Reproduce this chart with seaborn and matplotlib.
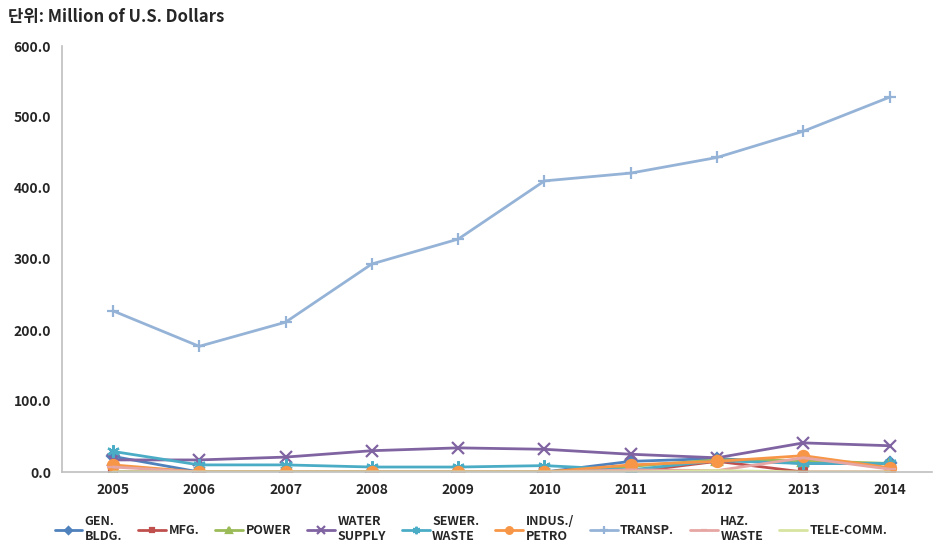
import numpy as np
import pandas as pd
import matplotlib
matplotlib.use("Agg")
import matplotlib.pyplot as plt
import seaborn as sns

years = ["2005", "2006", "2007", "2008", "2009", "2010", "2011", "2012", "2013", "2014"]

gen_bldg = [22, 0, 0, 0, 0, 0, 15, 19, 12, 12]
mfg = [0, 0, 0, 0, 0, 0, 0, 15, 0, 0]
power = [0, 0, 0, 0, 0, 0, 8, 17, 16, 12]
water_supply = [17, 17, 21, 30, 34, 32, 25, 20, 41, 37]
sewer_waste = [29, 10, 10, 7, 7, 9, 3, 16, 12, 12]
indus_petro = [10, 0, 0, 0, 0, 0, 10, 15, 23, 6]
transp = [227, 177, 211, 293, 328, 410, 421, 443, 480, 528]
haz_waste = [7, 0, 0, 0, 0, 0, 3, 2, 20, 4]
tele_comm = [0, 0, 0, 0, 0, 0, 0, 2, 0, 0]

series_names = ["GEN.\nBLDG.", "MFG.", "POWER", "WATER\nSUPPLY", "SEWER.\nWASTE",
                "INDUS./\nPETRO", "TRANSP.", "HAZ.\nWASTE", "TELE-COMM."]
series_values = [gen_bldg, mfg, power, water_supply, sewer_waste,
                 indus_petro, transp, haz_waste, tele_comm]
colors = ["#4F81BD", "#C0504D", "#9BBB59", "#8064A2", "#4BACC6",
          "#F79646", "#95B3D7", "#E6A6A4", "#D7E4A0"]
markers = ["D", "s", "^", "x", (6, 2, 0), "o", "+", "_", "None"]
msizes = [6, 6, 7, 9, 9, 8, 9, 8, 0]

sns.set_theme(style="white")
plt.rcParams["font.family"] = ["Noto Sans CJK KR", "DejaVu Sans"]

rows = []
for name, vals in zip(series_names, series_values):
    for i, v in enumerate(vals):
        rows.append({"series": name, "pos": i, "value": v})
df = pd.DataFrame(rows)

fig = plt.figure(figsize=(9.46, 5.6), dpi=100)
ax = fig.add_axes([62 / 946, 1 - 472 / 560, (932 - 62) / 946, (472 - 46) / 560])

for name, c, m, ms in zip(series_names, colors, markers, msizes):
    sub = df[df["series"] == name]
    sns.lineplot(data=sub, x="pos", y="value", ax=ax, color=c, marker=m,
                 markersize=ms, markeredgecolor=c, markeredgewidth=1.6,
                 linewidth=2.0, label=name)

ax.set_xlim(-0.59, 9.49)
ax.set_ylim(0, 600)
ax.set_xticks(range(len(years)))
ax.set_xticklabels(years, fontweight="bold", fontsize=10)
ax.set_yticks(np.arange(0, 601, 100))
ax.set_yticklabels([f"{v:.1f}" for v in np.arange(0, 601, 100)], fontweight="bold", fontsize=10)
ax.set_xlabel("")
ax.set_ylabel("")
ax.tick_params(axis="both", length=0, pad=8)
for s in ["top", "right"]:
    ax.spines[s].set_visible(False)
for s in ["left", "bottom"]:
    ax.spines[s].set_color("#BFBFBF")
    ax.spines[s].set_linewidth(1.2)

handles, labels = ax.get_legend_handles_labels()
leg = ax.legend(handles, labels, loc="upper center", bbox_to_anchor=(0.47, -0.075),
                ncol=9, frameon=False, handlelength=2.2, handletextpad=0.2,
                columnspacing=1.3, markerscale=0.6, prop={"weight": "bold", "size": 9})

fig.text(8 / 946, 1 - 17 / 560, "단위: Million of U.S. Dollars", fontsize=12,
         fontweight="bold", va="center", ha="left")

fig.savefig("out.png", dpi=100)
